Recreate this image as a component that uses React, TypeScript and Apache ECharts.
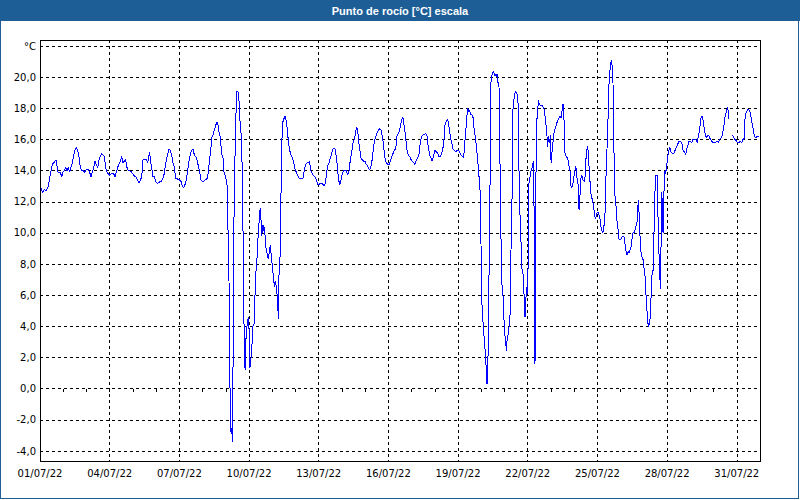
import React, { useEffect, useRef } from "react";
import * as echarts from "echarts";

// [hours since 01/07/22 00:00, dew point °C]
const dewPointReadings: [number, number | null][] = [
  [1.0, 12.9], [2.4, 12.6], [4.5, 12.8], [6.5, 12.7], [8.6, 13.0], [10.0, 13.5], [11.4, 14.0], [12.7, 14.4],
  [14.1, 14.5], [15.5, 14.6], [16.9, 14.7], [18.3, 13.9], [19.6, 13.9], [21.0, 13.9], [22.4, 13.6], [23.8, 13.9],
  [25.1, 14.0], [26.5, 14.2], [27.9, 14.0], [29.3, 14.2], [30.6, 13.9], [32.0, 14.2], [33.4, 14.5], [34.8, 15.0],
  [36.2, 15.3], [37.5, 15.5], [38.9, 15.3], [40.3, 14.9], [41.7, 14.2], [43.0, 14.0], [44.4, 14.0], [45.8, 13.9],
  [47.2, 14.0], [48.6, 14.1], [49.9, 14.1], [51.3, 13.9], [52.7, 13.6], [54.1, 13.9], [55.4, 14.2], [56.8, 14.6],
  [58.2, 14.4], [59.6, 14.2], [61.0, 14.7], [62.3, 14.9], [63.7, 15.1], [65.1, 15.0], [66.5, 14.9], [67.8, 14.2],
  [69.2, 13.9], [70.6, 13.8], [72.0, 13.7], [73.4, 13.8], [74.7, 13.8], [76.1, 13.8], [77.5, 13.6], [78.9, 13.9],
  [80.2, 14.2], [81.6, 14.4], [83.0, 14.6], [84.4, 14.9], [85.8, 14.5], [87.1, 14.6], [88.5, 14.7], [89.9, 14.2],
  [91.3, 14.0], [92.7, 14.0],
  [94.7, 13.9], [96.8, 13.7], [98.9, 13.6], [100.9, 13.4], [102.3, 13.2], [103.7, 13.4], [105.1, 13.6], [106.4, 14.7],
  [108.5, 14.7], [109.9, 14.7], [111.3, 14.5], [112.0, 14.8], [113.3, 15.2], [114.0, 14.7], [115.4, 14.2], [116.8, 13.6],
  [118.2, 13.6], [119.5, 13.3], [120.9, 13.2], [122.3, 13.2], [123.7, 13.3], [125.0, 13.3], [126.4, 13.4], [127.8, 13.6],
  [129.2, 14.2], [130.6, 14.7], [131.9, 15.0], [133.3, 15.4], [134.7, 15.3], [136.1, 15.0], [137.4, 14.5], [138.8, 14.2],
  [140.2, 13.5], [141.6, 13.5], [142.9, 13.4], [144.3, 13.4], [145.7, 13.3], [147.1, 13.0], [148.5, 12.9], [149.8, 13.1],
  [151.2, 13.4], [152.6, 14.0], [154.0, 14.6], [155.4, 15.1], [156.7, 15.3], [158.1, 15.4], [159.5, 15.0], [160.9, 14.9],
  [162.2, 14.7], [163.6, 14.3], [165.0, 13.9], [166.4, 13.4], [167.8, 13.3], [169.1, 13.3], [170.5, 13.4], [171.9, 13.4],
  [173.3, 13.6], [174.0, 14.0], [175.3, 14.7], [176.7, 15.5], [177.4, 16.1], [178.8, 16.3], [180.2, 16.6], [181.5, 16.9],
  [182.9, 17.1], [184.3, 16.9], [185.3, 16.3],
  [186.0, 16.2], [187.0, 15.6], [187.7, 15.1], [189.1, 14.8], [189.8, 14.0], [191.2, 13.7], [192.6, 13.4], [193.2, 13.2],
  [193.9, 11.6], [194.6, 9.0], [195.3, 6.9], [196.0, 2.7], [196.7, -2.6], [197.4, -2.8], [198.1, -2.5], [198.8, -3.4],
  [199.5, 1.8], [200.1, 8.8], [200.8, 12.8], [201.5, 14.9], [202.2, 16.8], [202.9, 18.6], [203.6, 19.1], [205.0, 19.0],
  [205.7, 18.4], [207.0, 16.8], [208.4, 16.1], [209.1, 13.0], [209.8, 10.0], [210.5, 5.5], [211.2, 2.5], [211.9, 1.2],
  [212.5, 2.5], [213.2, 3.8], [213.9, 4.0], [214.6, 4.4], [215.3, 4.6], [216.0, 3.8], [216.7, 1.3], [217.4, 1.5],
  [218.1, 2.0], [218.7, 2.3], [219.4, 3.3], [220.1, 4.0], [220.8, 4.1], [221.5, 4.2], [222.2, 6.1], [222.9, 7.0],
  [223.6, 8.2], [224.3, 8.4], [225.0, 9.3], [225.6, 10.1], [226.3, 10.6], [227.0, 11.3], [227.7, 11.6], [228.4, 10.8],
  [229.1, 9.8], [229.8, 10.2], [230.5, 10.5], [231.1, 10.1], [231.8, 10.4], [232.5, 9.9], [233.2, 9.2], [233.9, 8.9],
  [234.6, 8.7], [235.3, 8.5], [236.0, 8.3], [236.7, 8.7], [237.3, 9.0], [238.0, 9.2], [238.7, 8.7], [239.4, 8.3],
  [240.1, 7.8], [240.8, 7.4], [241.5, 7.0], [242.2, 6.5], [242.9, 6.9], [243.5, 6.8], [244.2, 6.5], [244.9, 6.1],
  [245.6, 5.5], [246.3, 4.5], [247.0, 7.4], [247.7, 7.6], [248.4, 9.5], [249.1, 12.8], [249.8, 15.3], [250.4, 17.0],
  [251.8, 17.3], [252.5, 17.4], [253.2, 17.5], [253.9, 17.4], [255.3, 16.8], [256.6, 15.9], [258.0, 15.3], [259.4, 15.0],
  [260.8, 14.8], [262.2, 14.5], [263.5, 14.1], [264.9, 13.9], [266.3, 13.7], [267.7, 13.5], [269.0, 13.5], [270.4, 13.5],
  [271.8, 13.5], [273.2, 14.1], [274.6, 14.4], [275.9, 14.5], [277.3, 14.5], [278.7, 14.6],
  [279.4, 14.1], [280.7, 13.9], [282.1, 13.7], [284.2, 13.6], [285.6, 13.4], [286.9, 13.1], [288.3, 13.1], [289.7, 13.2],
  [291.1, 13.2], [292.5, 13.1], [293.8, 13.0], [295.2, 13.3], [295.9, 13.8], [297.3, 14.3], [298.7, 14.5], [300.0, 14.8],
  [301.4, 15.1], [302.8, 15.4], [304.9, 15.4], [306.2, 14.9], [307.6, 14.1], [308.3, 13.5], [309.7, 13.1], [311.0, 13.4],
  [312.4, 13.8], [313.8, 14.0], [315.2, 14.0], [316.6, 14.0], [317.9, 13.7], [319.3, 14.0], [320.7, 14.7], [322.1, 15.2],
  [323.5, 15.8], [324.8, 16.0], [326.2, 16.4], [326.9, 16.8], [328.3, 16.7], [329.0, 16.0], [330.4, 15.4], [331.7, 14.8],
  [333.1, 14.7], [334.5, 14.6], [335.9, 14.6], [337.2, 14.4], [338.6, 14.3], [340.0, 14.1], [341.4, 14.1], [342.8, 14.5],
  [344.1, 15.2], [345.5, 15.9], [346.9, 16.2], [348.3, 16.4], [349.6, 16.6], [351.0, 16.7], [352.4, 16.6], [353.8, 16.2],
  [355.2, 15.5], [356.5, 14.8], [357.9, 14.5], [359.3, 14.4], [360.7, 14.4], [362.0, 14.6], [363.4, 14.9], [364.8, 15.1],
  [366.2, 15.3], [367.6, 15.4], [368.9, 16.2], [370.3, 16.4], [371.7, 16.6],
  [372.4, 16.9], [373.8, 17.3], [375.1, 17.4], [376.5, 16.8], [377.9, 16.1], [379.3, 15.3], [380.6, 15.0], [382.0, 14.9],
  [383.4, 14.7], [384.8, 14.6], [386.2, 14.5], [387.5, 14.4], [388.9, 14.7], [390.3, 14.8], [391.7, 15.1], [393.0, 15.8],
  [394.4, 16.2], [395.8, 16.3], [397.2, 16.3], [398.6, 16.4], [399.9, 16.2], [401.3, 15.5], [402.7, 15.0], [404.1, 14.8],
  [405.4, 14.6], [406.8, 15.0], [408.2, 15.3], [409.6, 15.2], [411.0, 15.1], [412.3, 14.9], [413.7, 14.9], [415.1, 15.1],
  [416.5, 15.5], [417.8, 16.2], [418.5, 16.9], [419.9, 17.2], [421.3, 17.3], [422.7, 16.8], [424.0, 16.2], [425.4, 15.8],
  [426.8, 15.4], [428.2, 15.3], [429.6, 15.2], [431.0, 15.3], [432.3, 15.3], [433.7, 15.2], [435.1, 15.0], [436.5, 14.9],
  [437.8, 14.8], [438.5, 15.4], [439.9, 16.5], [441.3, 17.6], [442.0, 18.0], [442.7, 17.8], [444.0, 17.9], [444.7, 17.6],
  [446.1, 17.6], [447.5, 17.4], [448.9, 16.5], [450.2, 16.1], [450.9, 15.5], [452.3, 14.8], [453.0, 14.0], [454.4, 13.2],
  [455.1, 12.1], [455.7, 9.3], [456.4, 6.1], [457.1, 4.7], [458.5, 3.9], [459.2, 2.8],
  [459.9, 2.5], [461.2, 1.2], [461.9, 0.3], [462.6, 1.0], [463.3, 3.1], [464.0, 7.4], [464.7, 9.3], [465.4, 17.5],
  [466.1, 19.9], [467.4, 20.2], [468.8, 20.4], [469.5, 20.1], [470.9, 20.2], [471.6, 20.0], [472.3, 20.2], [473.0, 19.8],
  [473.6, 19.5], [474.3, 19.4], [475.0, 16.5], [475.7, 12.3], [476.4, 9.5], [477.1, 7.0], [477.8, 6.3], [478.5, 5.9],
  [479.2, 4.8], [479.8, 4.0], [480.5, 3.4], [481.2, 3.1], [481.9, 2.4], [482.6, 3.1], [483.3, 3.4], [484.0, 3.5],
  [484.7, 4.0], [485.4, 4.3], [486.0, 5.3], [486.7, 8.9], [487.4, 10.4], [488.1, 13.9], [488.8, 18.1], [489.5, 18.1],
  [490.2, 18.8], [490.9, 19.0], [491.6, 19.1], [492.2, 19.0], [492.9, 18.9], [493.6, 18.6], [494.3, 18.1], [495.0, 13.8],
  [495.7, 11.3], [496.4, 11.0], [497.1, 9.3], [497.8, 7.8], [498.4, 7.6], [499.1, 7.4], [499.8, 6.8], [500.5, 5.3],
  [501.2, 4.6], [501.9, 5.3], [502.6, 6.5], [503.3, 6.3], [504.0, 6.1], [504.6, 9.5], [505.3, 13.2], [506.0, 13.4],
  [506.7, 13.8], [507.4, 14.0], [508.1, 14.1], [508.8, 14.3], [509.5, 14.5], [510.2, 14.6], [510.8, 8.3], [511.5, 1.6],
  [512.2, 11.5], [512.9, 16.2], [513.6, 17.4], [514.3, 17.9], [515.0, 18.5], [515.7, 18.3], [517.1, 18.2], [518.4, 18.2],
  [519.8, 18.1], [521.2, 17.9], [522.6, 17.1], [523.9, 16.2], [524.6, 15.5], [525.3, 16.2], [526.7, 15.8], [527.4, 16.3],
  [528.1, 14.5], [528.8, 15.1], [529.4, 15.3], [530.1, 15.8], [531.5, 16.6], [532.9, 16.8], [534.3, 17.1], [535.6, 17.3],
  [537.0, 17.5], [538.4, 17.4], [539.8, 18.0], [540.5, 18.3], [541.2, 17.7], [541.9, 16.6], [542.5, 15.1], [543.9, 14.9],
  [545.3, 14.8], [546.7, 14.3], [548.1, 13.8], [548.7, 13.0], [549.4, 12.9], [550.8, 13.2], [552.2, 13.8], [553.6, 14.3],
  [554.3, 13.9], [555.0, 13.5], [556.3, 13.0], [557.0, 11.5], [557.7, 12.1], [558.4, 12.8],
  [559.1, 13.6], [559.8, 13.7], [561.1, 13.4], [562.5, 13.3], [563.2, 13.6], [563.9, 14.5], [564.6, 15.1], [565.3, 15.4],
  [566.0, 15.6], [566.7, 15.0], [567.3, 14.3], [568.0, 13.6], [568.7, 13.0], [569.4, 12.5], [570.8, 12.1], [571.5, 11.9],
  [572.2, 11.6], [573.5, 11.0], [574.2, 10.9], [575.6, 11.3], [577.0, 11.3], [578.4, 11.0], [579.1, 10.7], [579.7, 10.4],
  [581.1, 10.0], [582.5, 10.2], [583.2, 10.8], [583.9, 11.3], [584.6, 13.2], [585.3, 14.3], [585.9, 15.4], [586.6, 16.6],
  [587.3, 18.0], [588.0, 19.6], [588.7, 20.2], [589.4, 20.8], [590.1, 21.0], [590.8, 21.1], [591.5, 21.1], [592.1, 19.6],
  [592.8, 16.4], [593.5, 13.8], [594.2, 12.3], [595.6, 11.5], [596.3, 10.7], [597.0, 10.4], [597.7, 10.0], [598.3, 9.6],
  [599.0, 9.6], [600.4, 9.6], [601.8, 9.8], [603.2, 9.8], [603.9, 9.6], [604.5, 9.3], [605.2, 9.0], [605.9, 8.7],
  [606.6, 8.6], [607.3, 8.7], [608.0, 8.8], [608.7, 8.7], [609.4, 8.8], [610.1, 9.0], [610.7, 9.1], [611.4, 9.5],
  [612.8, 10.0], [614.2, 10.0], [615.6, 10.4], [616.9, 10.7], [617.6, 11.5], [618.3, 12.1], [619.0, 11.3], [619.7, 10.2],
  [620.4, 9.3], [621.1, 8.7], [621.8, 8.5], [623.1, 8.3], [624.5, 7.6], [625.2, 7.2], [625.9, 6.3], [626.6, 5.7],
  [627.3, 4.9], [628.0, 4.3], [628.7, 4.0], [629.4, 4.1], [630.0, 4.4], [630.7, 4.6], [631.4, 5.9], [632.1, 7.2],
  [632.8, 7.4], [633.5, 7.6], [634.2, 8.9], [634.9, 11.7], [635.6, 12.8], [636.2, 13.7], [637.6, 13.7], [638.3, 11.7],
  [639.0, 10.2], [639.7, 8.5], [640.4, 7.4], [641.1, 6.4], [641.8, 9.5], [642.4, 12.6], [643.1, 11.9], [643.8, 10.0],
  [644.5, 11.7], [645.2, 13.8], [645.9, 14.0], [646.6, 13.8], [647.3, 14.3], [648.0, 14.5], [648.7, 14.9], [649.3, 15.2],
  [650.7, 15.5],
  [651.4, 15.4], [652.1, 15.2], [653.5, 15.1], [654.9, 15.1], [656.2, 15.3], [657.6, 15.5], [659.0, 15.7], [660.4, 15.9],
  [661.7, 15.9], [663.1, 15.8], [664.5, 15.3], [665.9, 15.2], [667.3, 15.0], [667.9, 15.3], [669.3, 15.6], [670.7, 15.9],
  [672.1, 15.9], [673.5, 15.8], [674.8, 16.0], [676.2, 16.0], [677.6, 16.0], [679.0, 15.8], [680.4, 16.2], [681.7, 16.7],
  [683.1, 17.4], [684.5, 17.5], [685.9, 16.9], [687.2, 16.4], [688.6, 16.1], [690.0, 16.3], [691.4, 16.2], [692.8, 16.0],
  [694.1, 15.9], [695.5, 15.8], [696.9, 15.8], [698.3, 15.8], [699.6, 15.9], [701.0, 15.8], [702.4, 16.0], [703.8, 16.1],
  [705.2, 16.3], [706.5, 16.8], [707.9, 17.5], [709.3, 17.8], [710.0, 18.0], [710.7, 18.1], [711.4, 17.5], [712.0, 17.3],
  [713.5, null],
  [715.5, 16.3], [716.9, 16.1], [718.2, 16.0], [719.6, 15.9], [721.0, 15.8], [722.4, 15.8], [723.8, 15.9], [725.1, 15.8],
  [726.5, 16.0], [727.9, 16.1], [728.6, 17.5], [730.0, 17.8], [731.3, 17.9], [732.7, 17.9], [734.1, 17.7], [735.5, 17.1],
  [736.9, 16.7], [738.2, 16.2], [739.6, 16.1], [741.0, 16.2], [742.4, 16.2], [743.4, 16.2],
];

const yTickValues = [-4, -2, 0, 2, 4, 6, 8, 10, 12, 14, 16, 18, 20, 22];
const dateLabels = [
  "01/07/22", "04/07/22", "07/07/22", "10/07/22", "13/07/22", "16/07/22",
  "19/07/22", "22/07/22", "25/07/22", "28/07/22", "31/07/22",
];
const titleText = "Punto de rocío [°C] escala";
const unitLabel = "°C";

const TOTAL_HOURS = 744;

export default function App() {
  const ref = useRef<HTMLDivElement>(null);

  useEffect(() => {
    if (!ref.current) return;
    const chart = echarts.init(ref.current, undefined, { renderer: "svg" });

    // frame geometry
    const frameTop = 40;
    const frameBottom = 461;
    const gridTop = 46; // y of top tick (22)
    const gridBottom = 451; // y of bottom tick (-4)
    const yMinTick = yTickValues[0];
    const yMaxTick = yTickValues[yTickValues.length - 1];
    const pxPerUnit = (gridBottom - gridTop) / (yMaxTick - yMinTick);
    const yMin = yMinTick - (frameBottom - gridBottom) / pxPerUnit;
    const yMax = yMaxTick + (gridTop - frameTop) / pxPerUnit;

    const dash = [3, 3];
    const font = "DejaVu Sans";
    const barBlue = "#1d5e97";

    chart.setOption({
      animation: false,
      backgroundColor: "#ffffff",
      textStyle: { fontFamily: font },
      grid: [
        {
          left: 40, top: frameTop, width: 720, height: frameBottom - frameTop,
          show: true, borderColor: "#000", borderWidth: 1, backgroundColor: "rgba(0,0,0,0)",
        },
        { left: 40, top: gridTop, width: 720, height: gridBottom - gridTop, show: false },
      ],
      xAxis: [
        {
          type: "value", gridIndex: 0, min: 0, max: TOTAL_HOURS, interval: 72,
          axisLine: { show: false },
          axisTick: { show: false },
          splitLine: { show: true, lineStyle: { color: "#000", type: dash, width: 1 } },
          axisLabel: {
            show: true, margin: 7, fontSize: 10, color: "#000", fontFamily: font,
            showMinLabel: true, showMaxLabel: true, hideOverlap: false,
            formatter: (v: number) => {
              const i = v / 72;
              return Number.isInteger(i) && i < dateLabels.length ? dateLabels[i] : "";
            },
          },
        },
        {
          type: "value", gridIndex: 1, min: 0, max: TOTAL_HOURS, interval: 24, offset: frameBottom - gridBottom,
          axisLine: { show: false },
          axisTick: { show: true, length: 3, lineStyle: { color: "#000", width: 1 } },
          axisLabel: { show: false },
          splitLine: { show: false },
        },
      ],
      yAxis: [
        { type: "value", gridIndex: 0, min: yMin, max: yMax, show: false, splitLine: { show: false } },
        {
          type: "value", gridIndex: 1, min: yMinTick, max: yMaxTick, interval: 2,
          axisLine: { show: false },
          axisTick: { show: false },
          splitLine: { show: true, lineStyle: { color: "#000", type: dash, width: 1 } },
          axisLabel: {
            show: true, margin: 4, fontSize: 10, color: "#000", fontFamily: font,
            formatter: (v: number) => (v === yMaxTick ? unitLabel : v.toFixed(1).replace(".", ",")),
          },
        },
      ],
      series: [
        {
          type: "line",
          xAxisIndex: 0,
          yAxisIndex: 0,
          data: dewPointReadings,
          showSymbol: false,
          symbol: "none",
          connectNulls: false,
          lineStyle: { color: "#0000ff", width: 1 },
          z: 5,
        },
      ],
      graphic: [
        { type: "rect", shape: { x: 0, y: 0, width: 800, height: 21 }, style: { fill: barBlue }, silent: true },
        {
          type: "text", x: 400, y: 11, silent: true,
          style: {
            text: titleText, fill: "#ffffff", align: "center", verticalAlign: "middle",
            font: 'bold 11px "Liberation Sans", Arial, sans-serif',
          },
        },
        {
          type: "rect", shape: { x: 0.5, y: 20.5, width: 798, height: 478 },
          style: { fill: "none", stroke: barBlue, lineWidth: 1 }, silent: true,
        },
      ],
    });

    return () => chart.dispose();
  }, []);

  return (
    <>
      <style>{"#dewpoint-chart svg path { shape-rendering: crispEdges; }"}</style>
      <div
        id="dewpoint-chart"
        ref={ref}
        style={{ position: "fixed", left: 0, top: 0, width: 800, height: 500 }}
      />
    </>
  );
}
